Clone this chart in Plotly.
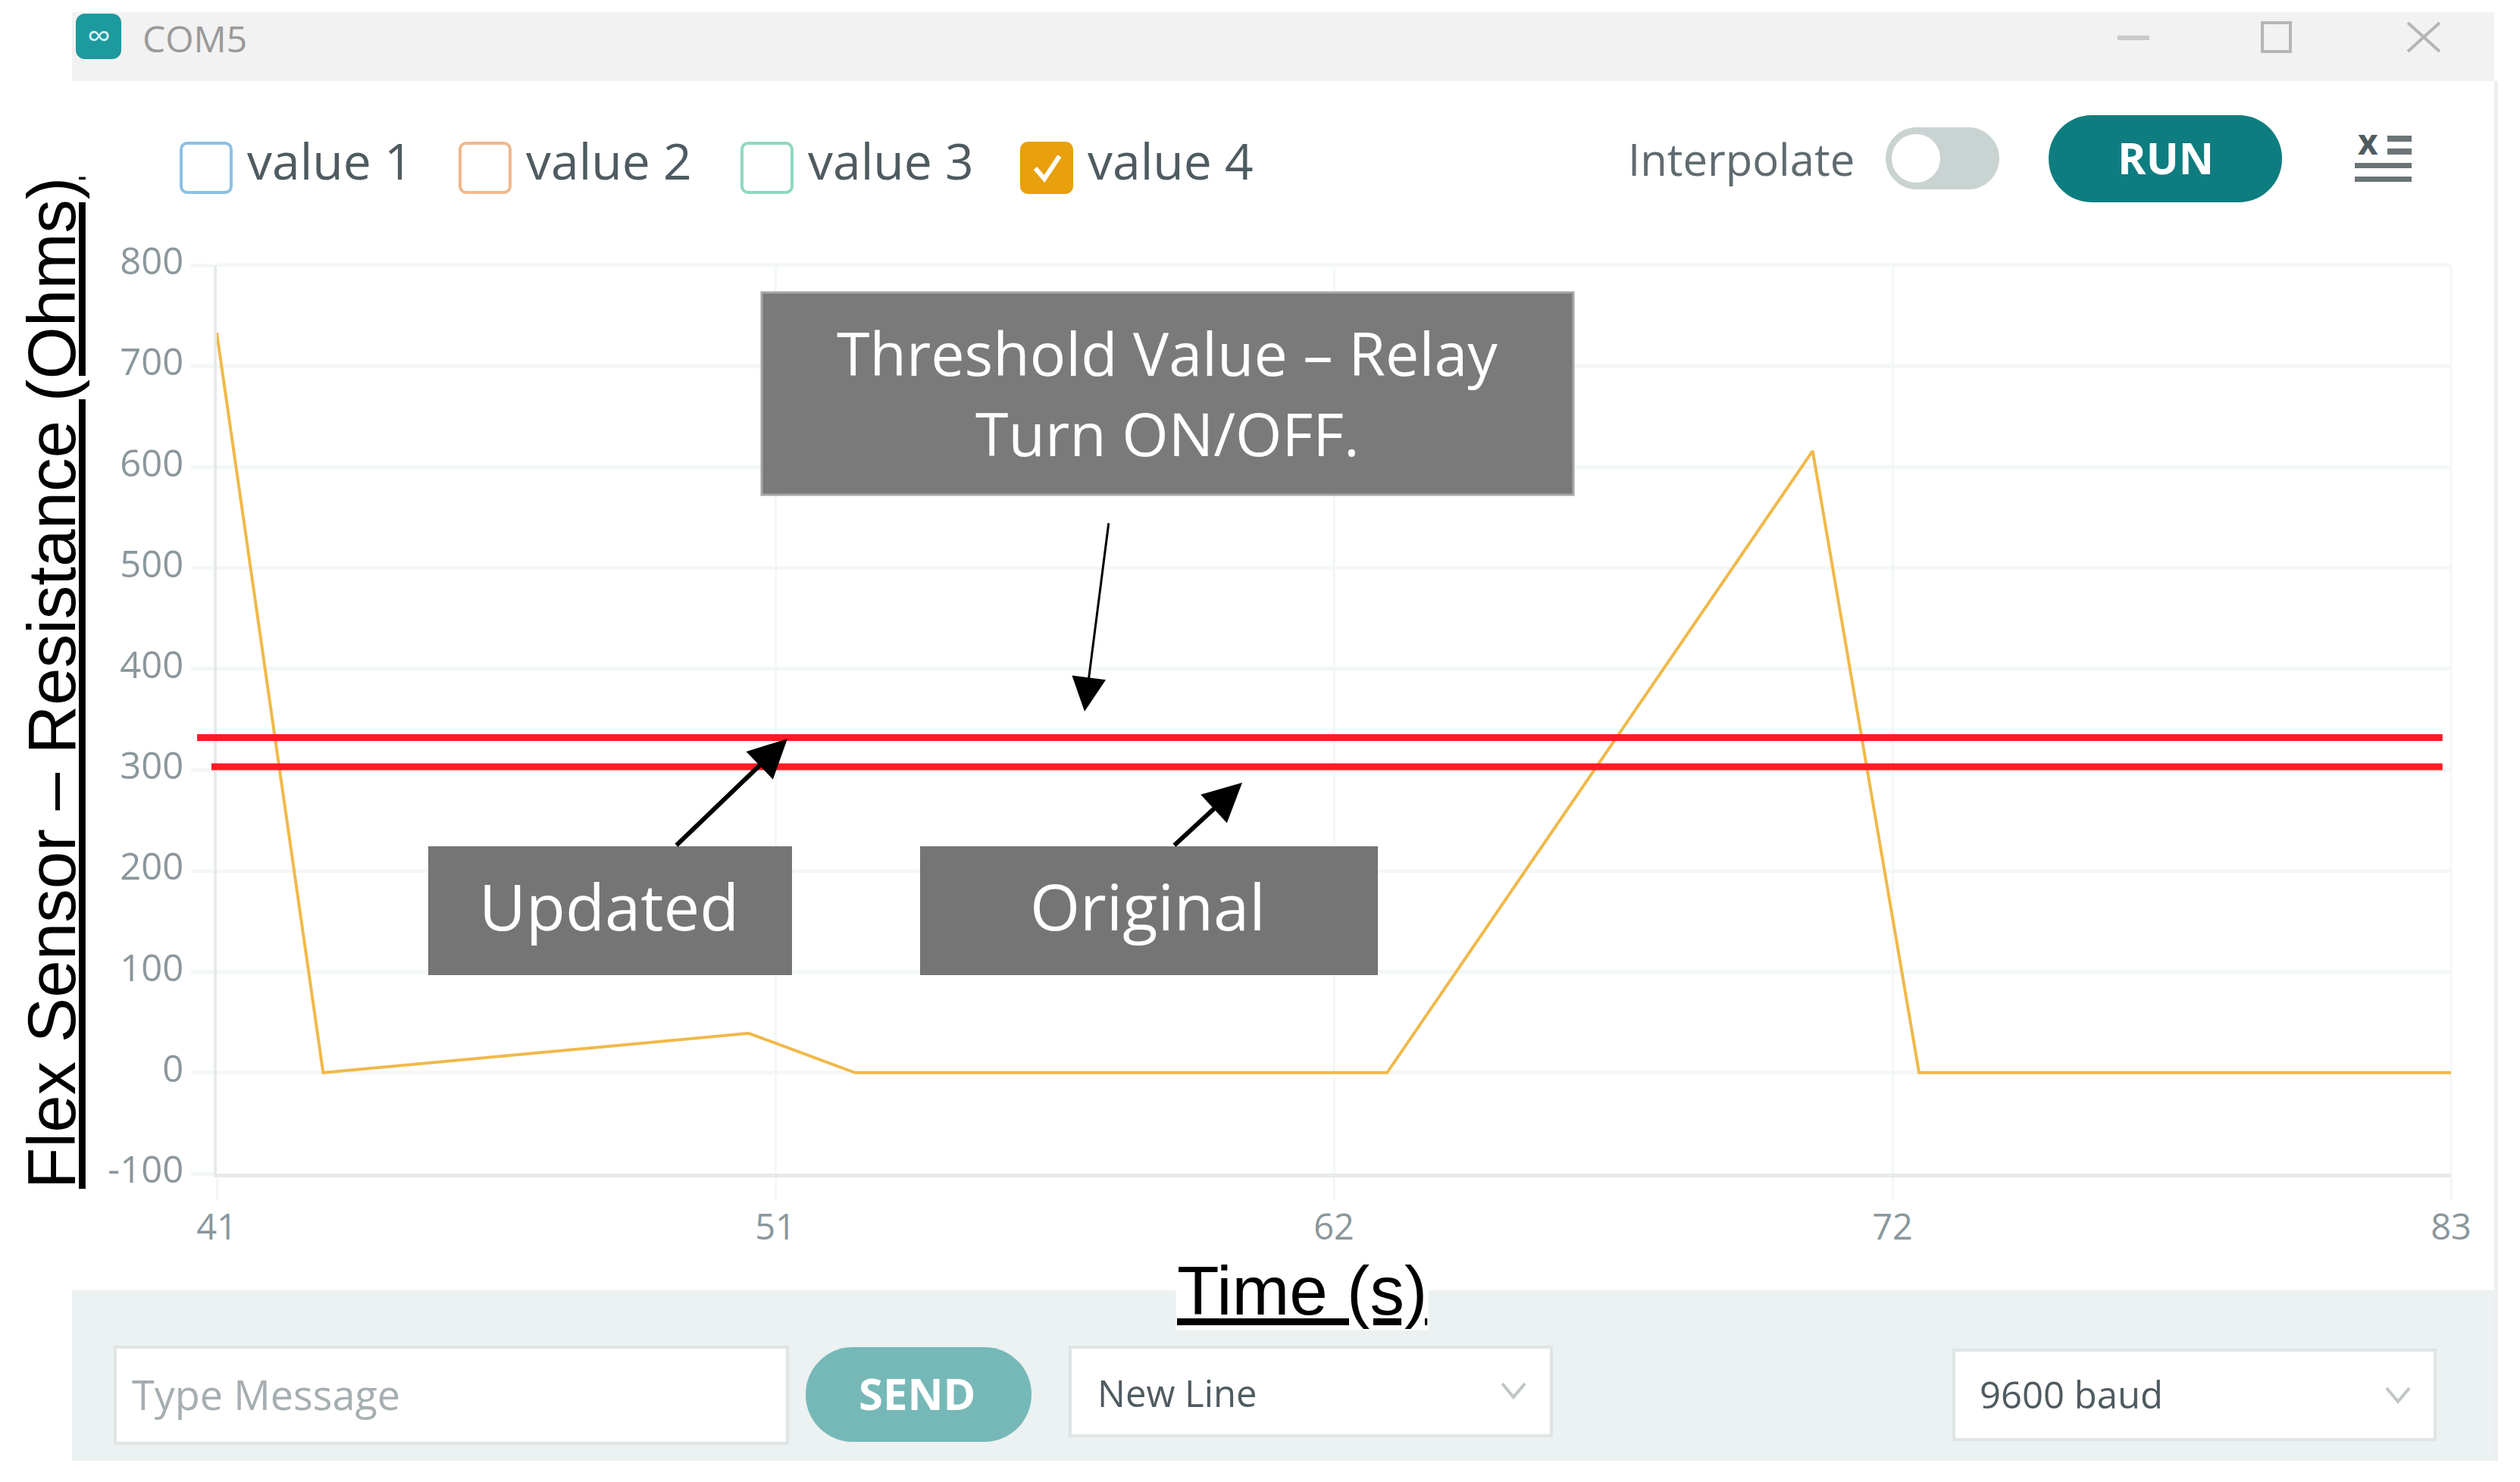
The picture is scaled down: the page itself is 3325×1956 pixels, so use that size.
import plotly.graph_objects as go

# Datos
time_s = [41, 43, 51, 53, 63, 71, 73, 83]
value_4 = [733, 0, 39, 0, 0, 616, 0, 0]
x_tick_vals = [41, 51.5, 62, 72.5, 83]
x_tick_text = ["41", "51", "62", "72", "83"]
y_tick_vals = [-100, 0, 100, 200, 300, 400, 500, 600, 700, 800]
y_tick_text = ["-100", "0", "100", "200", "300", "400", "500", "600", "700", "800"]
updated_x = [40.63, 82.84]
updated_y = [332, 332]
original_x = [40.9, 82.84]
original_y = [303, 303]
legend_names = ["value 1", "value 2", "value 3", "value 4"]

WIDTH = 3325
HEIGHT = 1956
LEFT = 286
RIGHT = 3234
TOP = 350
BOTTOM = 1549
UI_FONT = "Open Sans"
TITLE_FONT = "Liberation Sans"
GRID = "#f4f7f7"
AXIS = "#e6eaea"
RED = "#ff1a26"


def fx(px):
    return (px - LEFT) / (RIGHT - LEFT)


def fy(py):
    return (BOTTOM - py) / (BOTTOM - TOP)


def rect(x0, y0, x1, y1, fill, line_color=None, line_width=0):
    return dict(type="rect", xref="paper", yref="paper", layer="above",
                x0=fx(x0), x1=fx(x1), y0=fy(y0), y1=fy(y1), fillcolor=fill,
                line=dict(color=line_color or fill, width=line_width))


def rounded(x0, y0, x1, y1, r, fill, line_color=None, line_width=0):
    # Rectangulo redondeado con curvas, en coordenadas de pagina
    k = r * 0.45
    pts = [
        ("M", [(x0 + r, y0)]),
        ("L", [(x1 - r, y0)]),
        ("C", [(x1 - k, y0), (x1, y0 + k), (x1, y0 + r)]),
        ("L", [(x1, y1 - r)]),
        ("C", [(x1, y1 - k), (x1 - k, y1), (x1 - r, y1)]),
        ("L", [(x0 + r, y1)]),
        ("C", [(x0 + k, y1), (x0, y1 - k), (x0, y1 - r)]),
        ("L", [(x0, y0 + r)]),
        ("C", [(x0, y0 + k), (x0 + k, y0), (x0 + r, y0)]),
    ]
    path = " ".join(c + " " + " ".join(f"{fx(a):.5f},{fy(b):.5f}" for a, b in p) for c, p in pts) + " Z"
    return dict(type="path", xref="paper", yref="paper", layer="above", path=path,
                fillcolor=fill, line=dict(color=line_color or fill, width=line_width))


def stroke(points, color, width, layer="above"):
    path = "M " + " L ".join(f"{fx(a):.5f},{fy(b):.5f}" for a, b in points)
    return dict(type="path", xref="paper", yref="paper", layer=layer, path=path,
                line=dict(color=color, width=width))


def threshold_line(xs, ys):
    # Las lineas rojas salen un poco del area del grafico por la izquierda
    return dict(type="line", xref="paper", yref="y", layer="above",
                x0=(xs[0] - time_s[0]) / (time_s[-1] - time_s[0]),
                x1=(xs[1] - time_s[0]) / (time_s[-1] - time_s[0]),
                y0=ys[0], y1=ys[1], line=dict(color=RED, width=9))


def label(text, x, y, size, color, anchor="center", family=UI_FONT, **kw):
    return dict(text=text, xref="paper", yref="paper", x=fx(x), y=fy(y), xanchor=anchor,
                yanchor="middle", showarrow=False, font=dict(family=family, size=size, color=color), **kw)


def arrow(tail, head, width, size):
    return dict(text="", xref="paper", yref="paper", x=fx(head[0]), y=fy(head[1]),
                axref="pixel", ayref="pixel", ax=tail[0] - head[0], ay=tail[1] - head[1],
                showarrow=True, arrowhead=2, arrowsize=size, arrowwidth=width,
                arrowcolor="black", standoff=0)


fig = go.Figure()

fig.add_trace(go.Scatter(x=time_s, y=value_4, mode="lines", name="value 4",
                         line=dict(color="#f0b94a", width=4)))

shapes = []
annotations = []

# Bordes claros del grafico
shapes.append(stroke([(LEFT, TOP), (RIGHT, TOP)], GRID, 5, layer="below"))
shapes.append(stroke([(RIGHT, TOP), (RIGHT, BOTTOM + 30)], GRID, 3, layer="below"))

shapes.append(threshold_line(updated_x, updated_y))
shapes.append(threshold_line(original_x, original_y))

# Barra de titulo
shapes.append(rect(95, 16, 3291, 107, "#f2f2f2"))
shapes.append(rounded(100, 18, 160, 78, 12, "#1d9a9e"))
annotations.append(label("∞", 130, 46, 44, "#d8f0f0"))
annotations.append(label("COM5", 186, 50, 48, "#9a9a9a", anchor="left"))
shapes.append(rect(2794, 47, 2836, 53, "#c9c9c9"))
shapes.append(rect(2985, 30, 3022, 68, "rgba(0,0,0,0)", "#b5b5b5", 4))
shapes.append(stroke([(3177, 30), (3219, 68)], "#b5b5b5", 4))
shapes.append(stroke([(3219, 30), (3177, 68)], "#b5b5b5", 4))
shapes.append(rect(3291, 107, 3296, 1928, "#eceff0"))

# Casillas de la leyenda
box_x = [239, 607, 979, 1348]
box_color = ["#8cc0e4", "#efb98f", "#8fd8c0", "#e8a00c"]
for name, bx, col in zip(legend_names, box_x, box_color):
    fill = "#e8a00c" if name == "value 4" else "white"
    shapes.append(rounded(bx, 189, bx + 66, 254, 8, fill, col, 4))
    annotations.append(label(name, bx + 85, 211, 66, "#4e5b61", anchor="left"))
shapes.append(stroke([(1366, 222), (1378, 236), (1398, 206)], "white", 6))

# Controles de la derecha
annotations.append(label("Interpolate", 2146, 210, 58, "#5f6b70", anchor="left"))
shapes.append(rounded(2488, 168, 2638, 250, 41, "#c9d3d2"))
shapes.append(rounded(2496, 177, 2560, 241, 32, "white"))
shapes.append(rounded(2703, 152, 3011, 267, 57, "#0e7d80"))
annotations.append(label("<b>RUN</b>", 2857, 208, 57, "white"))
annotations.append(label("<b>x</b>", 3124, 186, 46, "#4e5b61"))
shapes.append(rect(3150, 179, 3182, 187, "#6b7578"))
shapes.append(rect(3150, 196, 3182, 204, "#6b7578"))
shapes.append(rect(3107, 215, 3182, 222, "#6b7578"))
shapes.append(rect(3107, 233, 3182, 240, "#6b7578"))

# Panel inferior
shapes.append(rect(95, 1703, 3291, 1928, "#ecf1f1"))
shapes.append(rect(152, 1778, 1039, 1905, "white", "#dfe5e5", 4))
annotations.append(label("Type Message", 172, 1840, 54, "#a5aeb1", anchor="left"))
shapes.append(rounded(1063, 1778, 1361, 1903, 62, "#76b8b8"))
annotations.append(label("<b>SEND</b>", 1210, 1838, 58, "white"))
shapes.append(rect(1412, 1778, 2047, 1895, "white", "#dfe5e5", 4))
annotations.append(label("New Line", 1446, 1838, 49, "#4e5b61", anchor="left"))
shapes.append(stroke([(1982, 1826), (1997, 1844), (2012, 1826)], "#c0c5c7", 4))
shapes.append(rect(2578, 1782, 3213, 1900, "white", "#dfe5e5", 4))
annotations.append(label("9600 baud", 2610, 1840, 49, "#4e5b61", anchor="left"))
shapes.append(stroke([(3149, 1832), (3164, 1850), (3179, 1832)], "#c0c5c7", 4))

# Recuadros grises y flechas
shapes.append(rect(1005, 386, 2076, 653, "#7a7a7a", "#a6a6a6", 3))
shapes.append(rect(565, 1117, 1045, 1287, "#757575"))
shapes.append(rect(1214, 1117, 1818, 1287, "#757575"))
annotations.append(label("Threshold Value – Relay", 1540, 465, 79, "white"))
annotations.append(label("Turn ON/OFF.", 1540, 571, 79, "white"))
annotations.append(label("Updated", 803, 1195, 85, "white"))
annotations.append(label("Original", 1514, 1195, 85, "white"))
annotations.append(arrow((1463, 689), (1431, 939), 3, 3))
annotations.append(arrow((891, 1117), (1039, 975), 6, 1.7))
annotations.append(arrow((1548, 1117), (1639, 1033), 6, 1.7))

# Titulos de los ejes
annotations.append(label("<u>Flex Sensor – Resistance (Ohms)</u>", 68, 902, 89, "black",
                         family=TITLE_FONT, textangle=-90))
annotations.append(label("<u>Time (s)</u>", 1718, 1703, 91, "black", family=TITLE_FONT,
                         bgcolor="white"))

fig.update_layout(
    width=WIDTH,
    height=HEIGHT,
    autosize=False,
    margin=dict(l=LEFT, r=WIDTH - RIGHT, t=TOP, b=HEIGHT - BOTTOM, pad=0),
    showlegend=False,
    hovermode=False,
    plot_bgcolor="white",
    paper_bgcolor="white",
    font=dict(family=UI_FONT, size=48, color="#8a979c"),
    xaxis=dict(
        range=[41, 83],
        tickvals=x_tick_vals,
        ticktext=x_tick_text,
        showgrid=True,
        gridcolor=GRID,
        gridwidth=3,
        zeroline=False,
        showline=True,
        linecolor=AXIS,
        linewidth=5,
        ticks="outside",
        ticklen=30,
        tickcolor=GRID,
        tickwidth=3,
        ticklabelstandoff=-4,
        tickfont=dict(size=47, color="#8a979c"),
    ),
    yaxis=dict(
        range=[-100, 800],
        tickvals=y_tick_vals,
        ticktext=y_tick_text,
        showgrid=True,
        gridcolor=GRID,
        gridwidth=5,
        zeroline=False,
        showline=True,
        linecolor=AXIS,
        linewidth=4,
        ticks="outside",
        ticklen=30,
        tickcolor=GRID,
        tickwidth=5,
        ticklabelshift=-5,
        tickfont=dict(size=49, color="#8a979c"),
    ),
    shapes=shapes,
    annotations=annotations,
)

fig.write_html("out.html", config=dict(displayModeBar=False),
               post_script="document.body.style.margin='0';")
